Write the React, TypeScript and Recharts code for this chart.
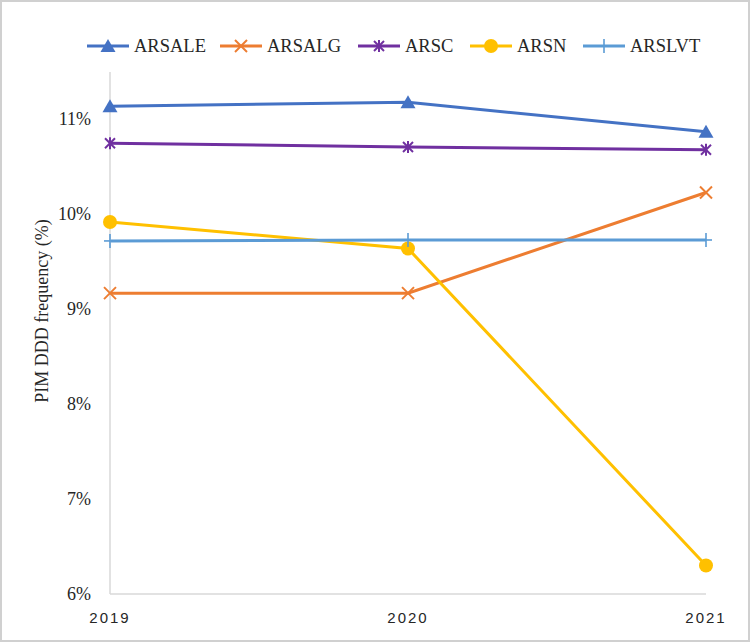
import React from 'react';
import { LineChart, Line, XAxis, YAxis, Label } from 'recharts';

const years = ['2019', '2020', '2021'];
const arsale = [11.14, 11.18, 10.87];
const arsalg = [9.17, 9.17, 10.23];
const arsc = [10.75, 10.71, 10.68];
const arsn = [9.92, 9.64, 6.3];
const arslvt = [9.72, 9.73, 9.73];
const yTicks = [6, 7, 8, 9, 10, 11];

type MarkerKind = 'triangle' | 'x' | 'star' | 'circle' | 'plus';

const series: { key: string; name: string; color: string; marker: MarkerKind; values: number[] }[] = [
  { key: 'ARSALE', name: 'ARSALE', color: '#4472C4', marker: 'triangle', values: arsale },
  { key: 'ARSALG', name: 'ARSALG', color: '#ED7D31', marker: 'x', values: arsalg },
  { key: 'ARSC', name: 'ARSC', color: '#7030A0', marker: 'star', values: arsc },
  { key: 'ARSN', name: 'ARSN', color: '#FFC000', marker: 'circle', values: arsn },
  { key: 'ARSLVT', name: 'ARSLVT', color: '#5B9BD5', marker: 'plus', values: arslvt },
];

const data = years.map((y, i) => {
  const row: Record<string, string | number> = { year: y };
  series.forEach((s) => {
    row[s.key] = s.values[i];
  });
  return row;
});

const FONT = "'Liberation Serif', 'DejaVu Serif', serif";

function MarkerShape({ kind, cx, cy, color }: { kind: MarkerKind; cx: number; cy: number; color: string }) {
  switch (kind) {
    case 'triangle':
      return <polygon points={`${cx},${cy - 7} ${cx + 7.5},${cy + 6} ${cx - 7.5},${cy + 6}`} fill={color} />;
    case 'x':
      return (
        <g stroke={color} strokeWidth={2}>
          <line x1={cx - 6} y1={cy - 6} x2={cx + 6} y2={cy + 6} />
          <line x1={cx - 6} y1={cy + 6} x2={cx + 6} y2={cy - 6} />
        </g>
      );
    case 'star':
      return (
        <g stroke={color} strokeWidth={2}>
          <line x1={cx - 5} y1={cy - 5} x2={cx + 5} y2={cy + 5} />
          <line x1={cx - 5} y1={cy + 5} x2={cx + 5} y2={cy - 5} />
          <line x1={cx} y1={cy - 6} x2={cx} y2={cy + 6} />
        </g>
      );
    case 'circle':
      return <circle cx={cx} cy={cy} r={7} fill={color} />;
    case 'plus':
    default:
      return (
        <g stroke={color} strokeWidth={1.6}>
          <line x1={cx - 6} y1={cy} x2={cx + 6} y2={cy} />
          <line x1={cx} y1={cy - 7} x2={cx} y2={cy + 7} />
        </g>
      );
  }
}

const YTick = (props: any) => {
  const { x, y, payload } = props;
  return (
    <text x={x} y={y} dy={6} textAnchor="end" fontFamily={FONT} fontSize={18} fill="#262626">
      {`${payload.value}%`}
    </text>
  );
};

const XTick = (props: any) => {
  const { x, y, payload } = props;
  return (
    <text x={x} y={y} dy={29} textAnchor="middle" fontFamily="'Liberation Sans', Arial, sans-serif" fontSize={15} letterSpacing={2} fill="#262626">
      {payload.value}
    </text>
  );
};

const legendPos = [87, 220, 358, 470, 583];

export default function App() {
  return (
    <div style={{ position: 'relative', width: 750, height: 642, background: '#fff', overflow: 'hidden' }}>
      <style>{`body{margin:0}`}</style>
      <LineChart width={750} height={642} data={data} margin={{ top: 72, right: 44, left: 0, bottom: 0 }}>
        <XAxis
          dataKey="year"
          height={48}
          axisLine={{ stroke: '#d9d9d9', strokeWidth: 1.5 }}
          tickLine={false}
          tick={<XTick />}
          tickMargin={0}
          tickSize={0}
        />
        <YAxis
          type="number"
          domain={[6, 11.5]}
          ticks={yTicks}
          width={110}
          axisLine={{ stroke: '#d9d9d9', strokeWidth: 1.5 }}
          tickLine={false}
          tickSize={0}
          tickMargin={19}
          tick={<YTick />}
          interval={0}
        >
          <Label
            content={() => (
              <text x={48} y={311} transform="rotate(-90 48 311)" textAnchor="middle" fontFamily={FONT} fontSize={18} fill="#262626">
                PIM DDD frequency (%)
              </text>
            )}
          />
        </YAxis>
        {series.map((s) => (
          <Line
            key={s.key}
            dataKey={s.key}
            name={s.name}
            stroke={s.color}
            strokeWidth={3}
            isAnimationActive={false}
            dot={(p: any) => <MarkerShape key={`${s.key}-${p.index}`} kind={s.marker} cx={p.cx} cy={p.cy} color={s.color} />}
            activeDot={false}
          />
        ))}
      </LineChart>
      <svg width={750} height={80} style={{ position: 'absolute', left: 0, top: 0, pointerEvents: 'none' }}>
        {series.map((s, i) => (
          <g key={s.key} transform={`translate(${legendPos[i]},46)`}>
            <line x1={0} y1={0} x2={42} y2={0} stroke={s.color} strokeWidth={3} />
            <MarkerShape kind={s.marker} cx={21} cy={0} color={s.color} />
            <text x={47} y={6} fontFamily={FONT} fontSize={18.5} fill="#262626">
              {s.name}
            </text>
          </g>
        ))}
      </svg>
      <div
        style={{
          position: 'absolute',
          left: 0,
          top: 0,
          width: 750,
          height: 642,
          boxSizing: 'border-box',
          border: '2px solid #d0d0d0',
          pointerEvents: 'none',
        }}
      />
    </div>
  );
}
